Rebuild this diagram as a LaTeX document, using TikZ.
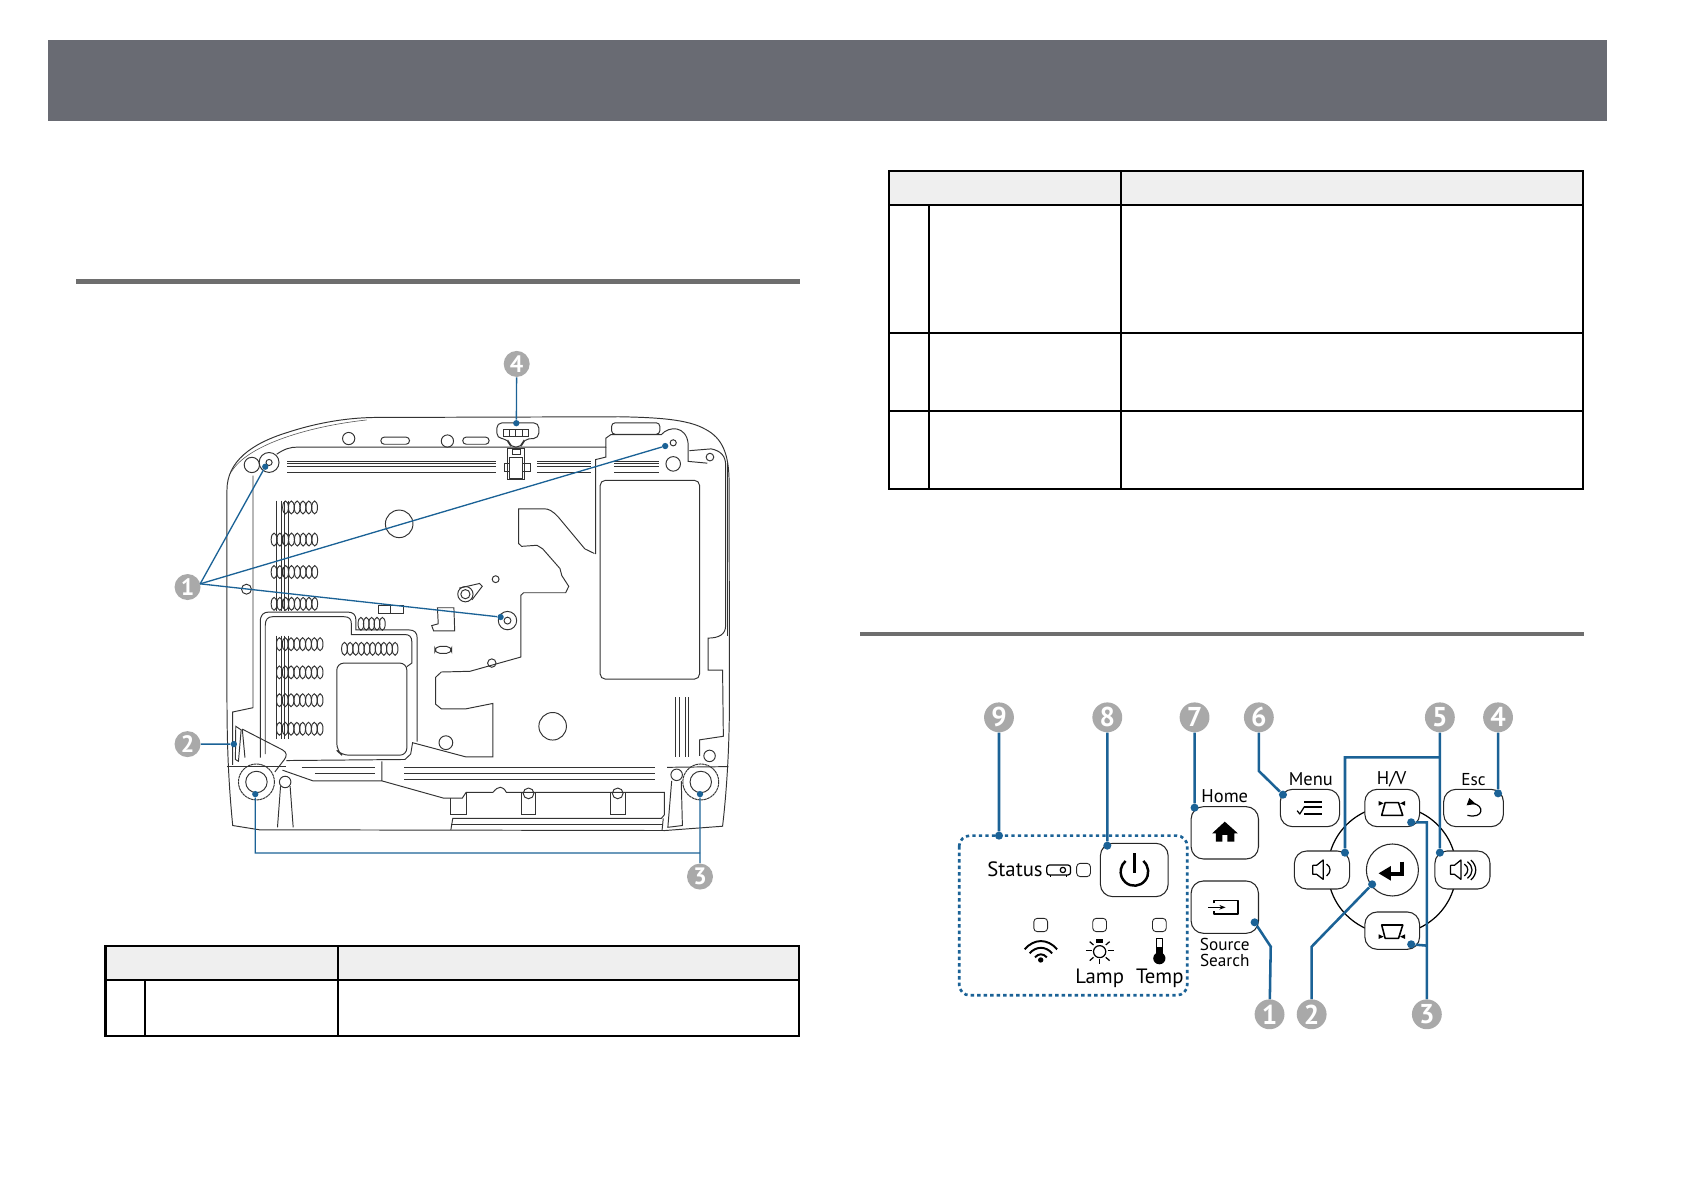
\documentclass[tikz,border=0pt]{standalone}
\usepackage{fontspec}
\setmainfont{PT Sans}
\usetikzlibrary{arrows.meta, calc, shapes.geometric}
\definecolor{callgray}{HTML}{A9A9A9}
\definecolor{leadblue}{HTML}{1B6296}
\definecolor{bandgray}{HTML}{696B73}
\definecolor{rulegray}{HTML}{6E6E6E}
\definecolor{headgray}{HTML}{EFEFEF}
\tikzset{%
    prj/.style={line width=0.55pt, draw=black!80},
    prjl/.style={line width=0.35pt, draw=black!65},
    tab/.style={line width=1.2pt, draw=black},
    btn/.style={line width=0.6pt, draw=black!85, fill=white, rounded corners=7pt},
    icn/.style={line width=1.1pt, draw=black, line join=round},
    icnt/.style={line width=0.7pt, draw=black, line join=round},
    lbl/.style={inner sep=0pt, font=\fontsize{11.8}{12}\selectfont},
    lbls/.style={inner sep=0pt, font=\fontsize{10.5}{11}\selectfont},
    lblt/.style={inner sep=0pt, font=\fontsize{9.8}{10}\selectfont},
    calla/.style={circle, fill=callgray, text=white, inner sep=0pt, minimum size=14.8pt, font=\fontsize{13.5}{13.5}\selectfont\bfseries},
    callb/.style={circle, fill=callgray, text=white, inner sep=0pt, minimum size=17pt, font=\fontsize{15.5}{15.5}\selectfont\bfseries},
    lda/.style={line width=0.75pt, draw=leadblue},
    ldb/.style={line width=1.45pt, draw=leadblue},
    dota/.style={circle, fill=leadblue, inner sep=0pt, minimum size=3.6pt},
    dotb/.style={circle, fill=leadblue, inner sep=0pt, minimum size=4.6pt},
}
\newcommand{\ringa}[3][]{\draw[prj,#1] #2 ellipse ({#3} and {1.072*#3});}
\newcommand{\ventrow}[4]{\foreach \k in {1,...,#3}{\draw[prj] ({#1+(\k-1)*#4},#2) ellipse (7.5 and 18);}}
\begin{document}
\begin{tikzpicture}[x=0.02cm,y=-0.02cm]
    \useasboundingbox (0,0) rectangle (1684,1190);
    \fill[bandgray] (47.5,39.5) rectangle (1607,120.5);
    \fill[rulegray] (76,279) rectangle (800,284);
    \fill[rulegray] (860,632) rectangle (1584,636);
    \fill[headgray] (105,946) rectangle (799,980);
    \fill[headgray] (889,171) rectangle (1583,205);
    \draw[tab] (105.5,946) rectangle (799,1036);
    \draw[tab] (105.5,980) -- (799,980);
    \draw[tab] (145,980) -- (145,1036);
    \draw[tab] (338,946) -- (338,1036);
    \draw[tab] (889,171) rectangle (1583,489);
    \draw[tab] (889,205) -- (1583,205);
    \draw[tab] (889,333) -- (1583,333);
    \draw[tab] (889,411) -- (1583,411);
    \draw[tab] (929,205) -- (929,489);
    \draw[tab] (1121,171) -- (1121,489);
    \begin{scope}[shift={(160,340)},xscale=0.3827,yscale=0.357]
        \draw[prj] (190,1360) .. controls (180,1250) and (175,1150) .. (175,1000) -- (175,420) .. controls (175,340) and (240,290) .. (330,260) .. controls (400,235) and (480,218) .. (560,217) -- (1200,215) .. controls (1300,217) and (1380,222) .. (1425,250) .. controls (1470,275) and (1487,320) .. (1487,400) -- (1488,1000) .. controls (1488,1150) and (1480,1270) .. (1470,1362) -- (1320,1374) -- (260,1372) -- cycle;
        \draw[prjl] (186,370) .. controls (230,290) and (400,240) .. (540,224);
        \draw[prj, line width=0.9pt] (1483,340) -- (1483,830);
        \draw[prj] (243,380) -- (243,1030) -- (190,1042) -- (190,1190);
        \draw[prj] (305,320) .. controls (325,305) and (340,300) .. (360,300) -- (1165,300) -- (1165,275) -- (1178,265) -- (1310,265) .. controls (1330,240) and (1375,240) .. (1380,290) -- (1380,340) -- (1430,345);
        \draw[prj] (1383,310) -- (1440,305) .. controls (1465,310) and (1478,325) .. (1478,350) -- (1478,800) .. controls (1478,825) and (1460,835) .. (1432,835) -- (1432,925) -- (1470,925) -- (1472,1110) -- (1410,1120) -- (1410,1165);
        \draw[prj] (1138,600) -- (1138,335) -- (1165,328) -- (1165,300);
        \draw[prj] (1135,598) -- (1110,585) -- (1040,495) .. controls (1025,478) and (1015,473) .. (1005,473) -- (937,473) -- (937,570) -- (945,578) -- (985,575) -- (1000,585) -- (1045,640) -- (1050,660) -- (1068,690) -- (1060,708) -- (950,708) -- (943,715) -- (943,888) -- (810,928) -- (735,930) -- (720,945) -- (720,1020) -- (735,1033) -- (800,1033) -- (870,1018) -- (870,1168) -- (800,1168) -- (660,1128) -- (655,1160) -- (640,1175) -- (330,1178);
        \draw[prj] (262,1170) -- (262,790) .. controls (262,770) and (270,762) .. (285,762) -- (490,762) .. controls (505,762) and (512,770) .. (512,785) -- (512,812) -- (650,812) .. controls (665,812) and (672,820) .. (672,835) -- (672,1125);
        \draw[prj] (275,1160) -- (275,800) .. controls (275,782) and (282,775) .. (295,775) -- (480,775) .. controls (495,775) and (500,782) .. (500,795) -- (500,825) -- (640,825) .. controls (652,825) and (658,832) .. (658,845) -- (658,905) -- (645,915);
        \draw[prj, rounded corners=4pt] (462,905) -- (645,905) -- (645,1163) -- (475,1163) -- (462,1150) -- cycle;
        \draw[prj, rounded corners=3pt] (1150,393) rectangle (1410,950);
        \ringa{(493,276)}{16}
        \ringa{(751,283)}{16}
        \draw[prj, rounded corners=2pt] (577,272) rectangle (652,292);
        \draw[prj, rounded corners=2pt] (791,272) rectangle (860,292);
        \draw[prj, rounded corners=2pt] (1180,232) rectangle (1306,264);
        \ringa{(1341,288)}{8}
        \ringa{(1341,347)}{19}
        \ringa{(285,343)}{26}
        \ringa{(285,343)}{8}
        \ringa{(240,350)}{20}
        \ringa{(1437,328)}{10}
        \ringa{(625,515)}{36}
        \ringa{(226,698)}{13}
        \ringa{(798,712)}{20}
        \ringa{(798,712)}{12}
        \draw[prj] (782,695) -- (835,682) -- (842,690) -- (815,728);
        \ringa{(877,670)}{9}
        \ringa{(908,786)}{24}
        \ringa{(908,786)}{9}
        \ringa{(867,905)}{11}
        \ringa{(747,1128)}{18}
        \ringa{(1026,1082)}{36}
        \draw[prj, rounded corners=3pt] (718,858) rectangle (762,878);
        \draw[prj] (570,745) rectangle (603,765);
        \draw[prj] (603,745) rectangle (637,765);
        \draw[prj] (725,750) -- (768,750) -- (770,815) -- (715,815) -- (710,800) -- (727,795) -- cycle;
        \foreach \sy in {340,347,355,372}{
            \draw[prj] (333,\sy) -- (877,\sy);
            \draw[prj] (985,\sy) -- (1125,\sy);
            \draw[prj] (1187,\sy) -- (1305,\sy);
        }
        \ventrow{328}{469}{6}{15.2}
        \ventrow{298}{559}{8}{15.2}
        \ventrow{298}{650}{8}{15.2}
        \ventrow{298}{739}{8}{15.2}
        \ventrow{312}{852}{8}{15.2}
        \ventrow{312}{931}{8}{15.2}
        \ventrow{312}{1009}{8}{15.2}
        \ventrow{312}{1089}{8}{15.2}
        \ventrow{482}{865}{10}{14.7}
        \ventrow{525}{795}{5}{14}
        \foreach \vx in {305,318,326,336}{
            \draw[prj] (\vx,450) -- (\vx,758);
            \draw[prj] (\vx,828) -- (\vx,1118);
        }
        \draw[prj, rounded corners=3pt] (880,275) -- (880,232) -- (990,232) -- (990,275) -- (950,278) -- (945,300) -- (915,300) -- (910,278) -- cycle;
        \draw[prj] (897,250) rectangle (963,270);
        \foreach \lx in {913,930,947}{\draw[prj] (\lx,250) -- (\lx,270);}
        \draw[prj] (908,305) -- (952,305) -- (952,390) -- (908,390) -- cycle;
        \draw[prj] (920,308) rectangle (942,322);
        \draw[prj] (900,345) rectangle (968,368);
        \draw[prj, fill=white] (914,330) rectangle (948,388);
        \draw[prj] (215,1090) -- (320,1148) .. controls (332,1155) and (332,1165) .. (325,1175) -- (300,1210);
        \draw[prj] (215,1090) -- (222,1170);
        \draw[prj] (198,1082) -- (212,1092) -- (205,1180) -- (197,1175) -- cycle;
        \draw[prj] (175,1195) -- (330,1195);
        \draw[prj] (1325,1197) -- (1485,1195);
        \ringa{(252,1238)}{28}
        \ringa[dash pattern=on 1.5pt off 0.3pt]{(252,1238)}{47}
        \ringa{(1413,1238)}{28}
        \ringa[dash pattern=on 1.5pt off 0.3pt]{(1413,1238)}{47}
        \foreach \sy in {1197,1213}{\draw[prj] (405,\sy) -- (562,\sy);}
        \draw[prj] (370,1197) -- (405,1197);
        \foreach \sy in {1197,1213,1230}{\draw[prj] (638,\sy) -- (1293,\sy);}
        \draw[prj] (320,1205) -- (400,1235) -- (580,1235) -- (580,1180);
        \draw[prj] (580,1235) -- (740,1283) -- (790,1283) -- (800,1267) -- (870,1267) .. controls (885,1248) and (895,1248) .. (905,1267) -- (1318,1267) -- (1318,1330) -- (1310,1340) -- (765,1340) -- (760,1372);
        \draw[prj] (760,1283) -- (760,1330) -- (800,1330) -- (800,1270);
        \draw[prj] (1315,1340) -- (1312,1372);
        \draw[prj] (760,1356) -- (1312,1356);
        \foreach \tx in {963,1196}{
            \ringa{(\tx,1270)}{14}
            \draw[prj] (\tx-19,1270) -- (\tx-19,1330) -- (\tx+19,1330) -- (\tx+19,1270);
        }
        \ringa{(327,1238)}{15}
        \draw[prj] (315,1250) -- (307,1365);
        \draw[prj] (340,1250) -- (348,1365);
        \ringa{(1350,1218)}{15}
        \draw[prj] (1337,1235) -- (1327,1365) -- (1365,1360) -- (1362,1235);
        \ringa{(1436,1165)}{15}
        \foreach \bx in {1347,1358,1372,1382}{\draw[prj] (\bx,1000) -- (\bx,1168);}
        \coordinate (fanone) at (105,683);
        \coordinate (bendl) at (249,1437);
        \coordinate (bendr) at (1411,1437);
        \node[calla] (cone) at (72,692) {1};
        \node[calla] (ctwo) at (72,1132) {2};
        \node[calla] (cthree) at (1411,1503) {3};
        \node[calla] (cfour) at (932,67) {4};
        \node[dota] (foota) at (275,355) {};
        \node[dota] (footb) at (1320,297) {};
        \node[dota] (footc) at (890,776) {};
        \node[dota] (hook) at (193,1132) {};
        \node[dota] (reara) at (249,1272) {};
        \node[dota] (rearb) at (1411,1272) {};
        \node[dota] (latch) at (931,233) {};
        \draw[lda] (fanone) -- (foota);
        \draw[lda] (fanone) -- (footb);
        \draw[lda] (fanone) -- (footc);
        \draw[lda] (ctwo) -- (hook);
        \draw[lda] (cthree) -- (rearb);
        \draw[lda] (reara) -- (bendl) -- (bendr);
        \draw[lda] (cfour) -- (latch);
    \end{scope}
    \begin{scope}[shift={(950,690)},xscale=0.3827,yscale=0.3333]
        \draw[line width=0.7pt] (1155,540) ellipse (168 and 192);
        \draw[btn] (630,350) rectangle (806,507);
        \draw[btn] (630,573) rectangle (806,730);
        \draw[btn] (393,460) rectangle (570,620);
        \draw[btn] (863,298) rectangle (1018,410);
        \draw[btn] (1084,298) rectangle (1227,410);
        \draw[btn] (1290,298) rectangle (1446,410);
        \draw[btn] (900,483) rectangle (1044,597);
        \draw[btn] (1267,483) rectangle (1411,597);
        \draw[btn] (1084,666) rectangle (1227,778);
        \draw[line width=0.6pt, draw=black!85, fill=white] (1156,540) ellipse (68 and 78);
        \node[lbl] (status) at (170,537) {Status};
        \node[lbl] (lamp) at (391,864) {Lamp};
        \node[lbl] (temp) at (548,864) {Temp};
        \node[lbls] (home) at (718,318) {Home};
        \node[lblt] (source) at (718,763) {Source};
        \node[lblt] (search) at (718,811) {Search};
        \node[lbls] (menu) at (943,268) {Menu};
        \node[lbls] (hv) at (1154,268) {H/V};
        \node[lblt] (esc) at (1368,268) {Esc};
        \draw[icnt, rounded corners=1.5pt] (253,525) rectangle (315,555);
        \draw[icnt] (295,540) ellipse (7 and 8);
        \draw[icnt] (262,555) -- (262,561);
        \draw[icnt] (305,555) -- (305,561);
        \foreach \ix/\iy in {349/540,237/705,391/705,547/705}{
            \draw[line width=0.5pt, draw=black!85, rounded corners=2pt] (\ix-18,\iy-20) rectangle (\ix+18,\iy+20);
        }
        \draw[line width=1.4pt] (505,513) arc[start angle=-50, end angle=230, x radius=36, y radius=42];
        \draw[line width=1.4pt] (482,490) -- (482,548);
        \draw[icn] (195,778) .. controls (220,745) and (255,745) .. (280,778);
        \draw[icn] (208,790) .. controls (225,768) and (250,768) .. (267,790);
        \draw[icn] (222,802) .. controls (232,790) and (243,790) .. (253,802);
        \fill (237,810) ellipse (7 and 8);
        \draw[icnt] (391,785) ellipse (16 and 18);
        \fill (382,747) rectangle (400,760);
        \foreach \rxa/\rya/\rxb/\ryb in {355/782/370/782,412/782/428/782,365/755/375/765,407/765/417/755,365/812/375/802,407/802/417/812,391/808/391/822}{
            \draw[icnt] (\rxa,\rya) -- (\rxb,\ryb);
        }
        \draw[icnt] (540,745) rectangle (555,795);
        \fill (540,770) rectangle (555,800);
        \fill (547,805) ellipse (16 and 18);
        \fill (685,430) -- (718,395) -- (752,430) -- (743,430) -- (743,455) -- (725,455) -- (725,435) -- (712,435) -- (712,455) -- (695,455) -- (695,430) -- cycle;
        \draw[icnt, line width=0.9pt] (690,640) -- (690,632) -- (752,632) -- (752,672) -- (690,672) -- (690,664);
        \draw[icnt, line width=0.9pt, -{Stealth[length=3.5pt]}] (675,652) -- (720,652);
        \foreach \my in {335,352,372}{\draw[icn, line width=1.3pt] (925,\my) -- (972,\my);}
        \draw[icnt] (907,362) -- (914,372) -- (926,350);
        \draw[icnt, line width=0.9pt] (1128,376) -- (1183,376) -- (1172,338) -- (1137,338) -- cycle;
        \fill (1133,340) -- (1120,333) -- (1120,347) -- cycle;
        \fill (1176,340) -- (1189,333) -- (1189,347) -- cycle;
        \draw[icnt, line width=0.9pt] (1128,705) -- (1183,705) -- (1172,745) -- (1137,745) -- cycle;
        \fill (1133,740) -- (1120,733) -- (1120,747) -- cycle;
        \fill (1176,740) -- (1189,733) -- (1189,747) -- cycle;
        \draw[line width=2.2pt] (1180,515) -- (1180,553) -- (1140,553);
        \fill (1120,550) -- (1152,528) -- (1152,572) -- cycle;
        \foreach \sx in {948,1308}{
            \draw[icnt] (\sx,526) -- (\sx+10,526) -- (\sx+27,510) -- (\sx+27,568) -- (\sx+10,553) -- (\sx,553) -- cycle;
            \draw[icnt] (\sx+36,522) .. controls (\sx+48,532) and (\sx+48,546) .. (\sx+36,558);
        }
        \draw[icnt] (1352,515) .. controls (1368,530) and (1368,550) .. (1352,565);
        \draw[icnt] (1361,510) .. controls (1378,528) and (1378,552) .. (1361,570);
        \draw[icnt] (1352,376) .. controls (1395,388) and (1398,345) .. (1365,340);
        \fill (1357,324) -- (1374,342) -- (1350,346) -- cycle;
        \node[callb] (cnine) at (128,82) {9};
        \node[callb] (ceight) at (411,82) {8};
        \node[callb] (cseven) at (639,82) {7};
        \node[callb] (csix) at (807,82) {6};
        \node[callb] (cfive) at (1280,82) {5};
        \node[callb] (cfourb) at (1432,82) {4};
        \node[callb] (coneb) at (835,973) {1};
        \node[callb] (ctwob) at (945,973) {2};
        \node[callb] (cthreeb) at (1246,973) {3};
        \coordinate (bendsix) at (807,243);
        \coordinate (bendone) at (838,770);
        \coordinate (bendtwo) at (945,770);
        \coordinate (forkfive) at (1280,202);
        \coordinate (cornerfive) at (1032,202);
        \coordinate (bendthree) at (1246,397);
        \coordinate (forkthree) at (1246,767);
        \node[dotb] (dbox) at (128,437) {};
        \node[dotb] (dpower) at (411,467) {};
        \node[dotb] (dhome) at (639,353) {};
        \node[dotb] (dmenu) at (870,314) {};
        \node[dotb] (dvolup) at (1280,488) {};
        \node[dotb] (dvoldn) at (1032,488) {};
        \node[dotb] (desc) at (1432,310) {};
        \node[dotb] (dsource) at (796,697) {};
        \node[dotb] (denter) at (1103,583) {};
        \node[dotb] (dtop) at (1205,397) {};
        \node[dotb] (dbot) at (1205,763) {};
        \draw[ldb, line width=1.5pt, dash pattern=on 1.9pt off 1.8pt, rounded corners=6pt] (24,437) rectangle (620,916);
        \draw[ldb] (cnine) -- (dbox);
        \draw[ldb] (ceight) -- (dpower);
        \draw[ldb] (cseven) -- (dhome);
        \draw[ldb] (csix) -- (bendsix) -- (dmenu);
        \draw[ldb] (cfive) -- (dvolup);
        \draw[ldb] (forkfive) -- (cornerfive) -- (dvoldn);
        \draw[ldb] (cfourb) -- (desc);
        \draw[ldb] (coneb) -- (bendone) -- (dsource);
        \draw[ldb] (ctwob) -- (bendtwo) -- (denter);
        \draw[ldb] (cthreeb) -- (bendthree) -- (dtop);
        \draw[ldb] (forkthree) -- (dbot);
    \end{scope}
\end{tikzpicture}
\end{document}
